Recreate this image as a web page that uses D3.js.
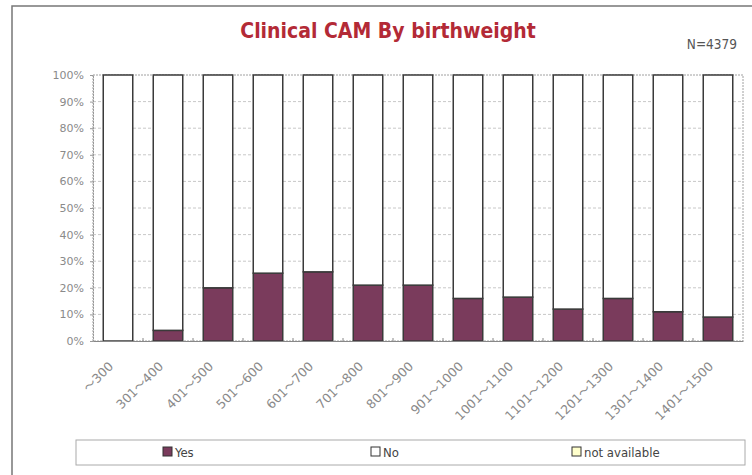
<!DOCTYPE html>
<html>
<head>
<meta charset="utf-8">
<script src="https://cdn.jsdelivr.net/npm/d3@7"></script>
<style>
  body { margin: 0; background: #fff; }
  svg { display: block; }
</style>
</head>
<body>
<div id="chart"></div>
<script>
// birthweight groups
var categories = ["～300", "301～400", "401～500", "501～600", "601～700", "701～800", "801～900",
  "901～1000", "1001～1100", "1101～1200", "1201～1300", "1301～1400", "1401～1500"];
// percent with clinical CAM
var yesValues = [0, 4, 20, 25.5, 26, 21, 21, 16, 16.5, 12, 16, 11, 9];
// percent without clinical CAM
var noValues = yesValues.map(function(v) { return 100 - v; });
var naValues = [0, 0, 0, 0, 0, 0, 0, 0, 0, 0, 0, 0, 0];
var yTicks = [0, 10, 20, 30, 40, 50, 60, 70, 80, 90, 100];
var seriesNames = ["Yes", "No", "not available"];
var seriesColors = ["#7a3b5c", "#ffffff", "#ffffcc"];

var W = 752, H = 475;
var margin = {top: 75, right: 10, bottom: 134, left: 93},
    width = 743 - margin.left,
    height = 341 - margin.top;

var svg = d3.select("#chart").append("svg")
    .attr("width", W)
    .attr("height", H);

// outer frame
svg.append("rect")
    .attr("x", 12).attr("y", 6)
    .attr("width", W + 10).attr("height", H + 10)
    .attr("fill", "none")
    .attr("stroke", "#777")
    .attr("stroke-width", 1.5);

svg.append("text")
    .attr("x", 388).attr("y", 38)
    .attr("text-anchor", "middle")
    .style("font-family", "'DejaVu Sans Condensed', 'DejaVu Sans'")
    .style("font-weight", "bold")
    .style("font-size", "21px")
    .style("fill", "#b32a36")
    .text("Clinical CAM By birthweight");

svg.append("text")
    .attr("x", 737).attr("y", 49)
    .attr("text-anchor", "end")
    .style("font-family", "'DejaVu Sans Condensed', 'DejaVu Sans'")
    .style("font-size", "13.5px")
    .style("fill", "#555")
    .text("N=4379");

var g = svg.append("g")
    .attr("transform", "translate(" + margin.left + "," + margin.top + ")");

var x = d3.scaleBand()
    .domain(categories)
    .range([0, width])
    .paddingInner(0.41)
    .paddingOuter(0.205);

var y = d3.scaleLinear()
    .domain([0, 100])
    .range([height, 0]);

// gridlines
g.selectAll(".grid")
  .data(yTicks.slice(1, -1))
  .enter().append("line")
    .attr("x1", 0).attr("x2", width)
    .attr("y1", function(d) { return y(d); })
    .attr("y2", function(d) { return y(d); })
    .attr("stroke", "#c8c8c8")
    .attr("stroke-dasharray", "3,2");

// plot frame (dashed)
g.append("rect")
    .attr("x", 0).attr("y", 0)
    .attr("width", width).attr("height", height)
    .attr("fill", "none")
    .attr("stroke", "#a0a0a0")
    .attr("stroke-dasharray", "2,1");

// stacked bars
var rows = categories.map(function(c, i) {
  return {cat: c, Yes: yesValues[i], No: noValues[i], "not available": naValues[i]};
});
var stack = d3.stack().keys(seriesNames)(rows);

g.selectAll(".series")
  .data(stack)
  .enter().append("g")
    .attr("fill", function(d, i) { return seriesColors[i]; })
  .selectAll("rect")
  .data(function(d) { return d.filter(function(p) { return p[1] - p[0] > 0; }); })
  .enter().append("rect")
    .attr("x", function(d) { return x(d.data.cat); })
    .attr("y", function(d) { return y(d[1]); })
    .attr("width", x.bandwidth())
    .attr("height", function(d) { return y(d[0]) - y(d[1]); })
    .attr("stroke", "#3a3a3a")
    .attr("stroke-width", 1.5);

// y axis
var yAxis = g.append("g")
    .call(d3.axisLeft(y).tickValues(yTicks).tickSize(3)
      .tickFormat(function(d) { return d + "%"; }));
yAxis.select(".domain").attr("stroke", "#999").attr("stroke-dasharray", "2,1");
yAxis.selectAll(".tick line").attr("stroke", "#999");
yAxis.selectAll("text")
    .style("font-family", "'DejaVu Sans'")
    .style("font-size", "11px")
    .style("fill", "#8a8a8a")
    .attr("dx", "-3");

// x axis
var xAxis = g.append("g")
    .attr("transform", "translate(0," + height + ")")
    .call(d3.axisBottom(x).tickSize(0));
xAxis.select(".domain").attr("stroke", "#888");
xAxis.selectAll(".tick text")
    .style("font-family", "'DejaVu Sans', 'Noto Sans CJK JP'")
    .style("font-size", "12.5px")
    .style("fill", "#8a8a8a")
    .attr("text-anchor", "end")
    .attr("dy", "0.35em")
    .attr("transform", "translate(-7,23) rotate(-45)")
    .attr("y", 0).attr("x", 0);

// small ticks at band boundaries
g.selectAll(".btick")
  .data(categories.slice(1))
  .enter().append("line")
    .attr("x1", function(d) { return x(d) - x.step() * x.paddingInner() / 2; })
    .attr("x2", function(d) { return x(d) - x.step() * x.paddingInner() / 2; })
    .attr("y1", height - 3).attr("y2", height)
    .attr("stroke", "#888");

// legend
var legend = svg.append("g");
legend.append("rect")
    .attr("x", 76).attr("y", 440)
    .attr("width", 669).attr("height", 25)
    .attr("fill", "#fff")
    .attr("stroke", "#aaa");

var legendX = [163, 371, 572];
var items = legend.selectAll(".item")
  .data(seriesNames)
  .enter().append("g")
    .attr("transform", function(d, i) { return "translate(" + legendX[i] + ",447)"; });
items.append("rect")
    .attr("width", 9).attr("height", 9)
    .attr("fill", function(d, i) { return seriesColors[i]; })
    .attr("stroke", "#333");
items.append("text")
    .attr("x", 12).attr("y", 9.5)
    .style("font-family", "'DejaVu Sans Condensed', 'DejaVu Sans'")
    .style("font-size", "13px")
    .style("fill", "#444")
    .text(function(d) { return d; });
</script>
</body>
</html>
